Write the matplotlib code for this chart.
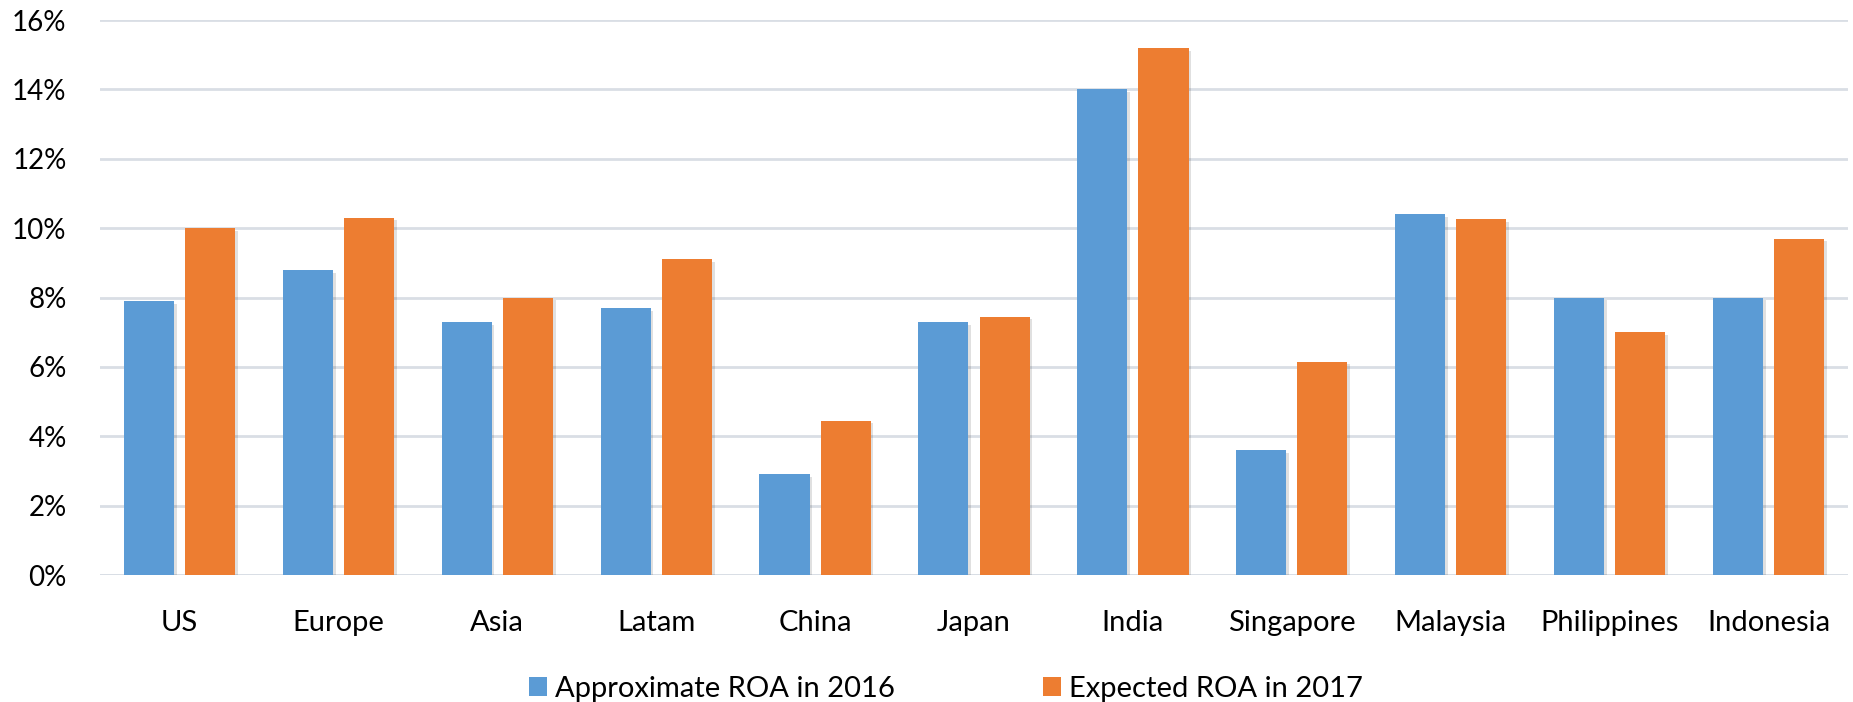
import numpy as np
import matplotlib.pyplot as plt
from matplotlib import patheffects
from matplotlib.ticker import FuncFormatter

plt.rcParams['font.family'] = ['Lato', 'DejaVu Sans']

regions = ['US', 'Europe', 'Asia', 'Latam', 'China', 'Japan', 'India',
           'Singapore', 'Malaysia', 'Philippines', 'Indonesia']
roa_2016 = [7.9, 8.8, 7.3, 7.7, 2.9, 7.3, 14.0, 3.6, 10.4, 8.0, 8.0]
roa_2017 = [10.0, 10.3, 8.0, 9.1, 4.45, 7.45, 15.2, 6.15, 10.25, 7.0, 9.7]
series_names = ['Approximate ROA in 2016', 'Expected ROA in 2017']
yticks = [0, 2, 4, 6, 8, 10, 12, 14, 16]

blue = '#5B9BD5'
orange = '#ED7D31'
grid_color = '#D9DEE5'

fig = plt.figure(figsize=(18.53, 7.02), dpi=100)
ax = fig.add_axes([100 / 1853, 1 - 575 / 702, 1748 / 1853, 555 / 702])

x = np.arange(len(regions))
width = 0.315
offset = (width + 0.07) / 2

shadow = [patheffects.SimplePatchShadow(offset=(2, -2), shadow_rgbFace='#000000', alpha=0.12),
          patheffects.Normal()]

b1 = ax.bar(x - offset, roa_2016, width, color=blue, label=series_names[0], zorder=3)
b2 = ax.bar(x + offset, roa_2017, width, color=orange, label=series_names[1], zorder=3)
for bar in list(b1) + list(b2):
    bar.set_path_effects(shadow)

ax.set_xlim(-0.5, len(regions) - 0.5)
ax.set_ylim(0, 16)
ax.set_yticks(yticks)
ax.yaxis.set_major_formatter(FuncFormatter(lambda v, p: '{:.0f}%'.format(v)))
ax.set_xticks(x)
ax.set_xticklabels(regions)

ax.grid(axis='y', color=grid_color, linewidth=2, zorder=0)
ax.set_axisbelow(True)
for side in ['top', 'right', 'left', 'bottom']:
    ax.spines[side].set_visible(False)
ax.axhline(0, color=grid_color, linewidth=2, zorder=2)

ax.tick_params(axis='y', length=0, pad=24, labelsize=20, labelcolor='#000000')
ax.tick_params(axis='x', length=0, pad=25, labelsize=21, labelcolor='#000000')

leg = fig.legend(handles=[b1, b2], labels=series_names, loc='center',
                 bbox_to_anchor=(946 / 1853, 1 - 689 / 702), ncol=2, frameon=False,
                 fontsize=21, handlelength=0.62, handleheight=0.62,
                 handletextpad=0.25, columnspacing=5.1)
for h in leg.legend_handles:
    h.set_path_effects([])

fig.savefig('out.png', dpi=100)
